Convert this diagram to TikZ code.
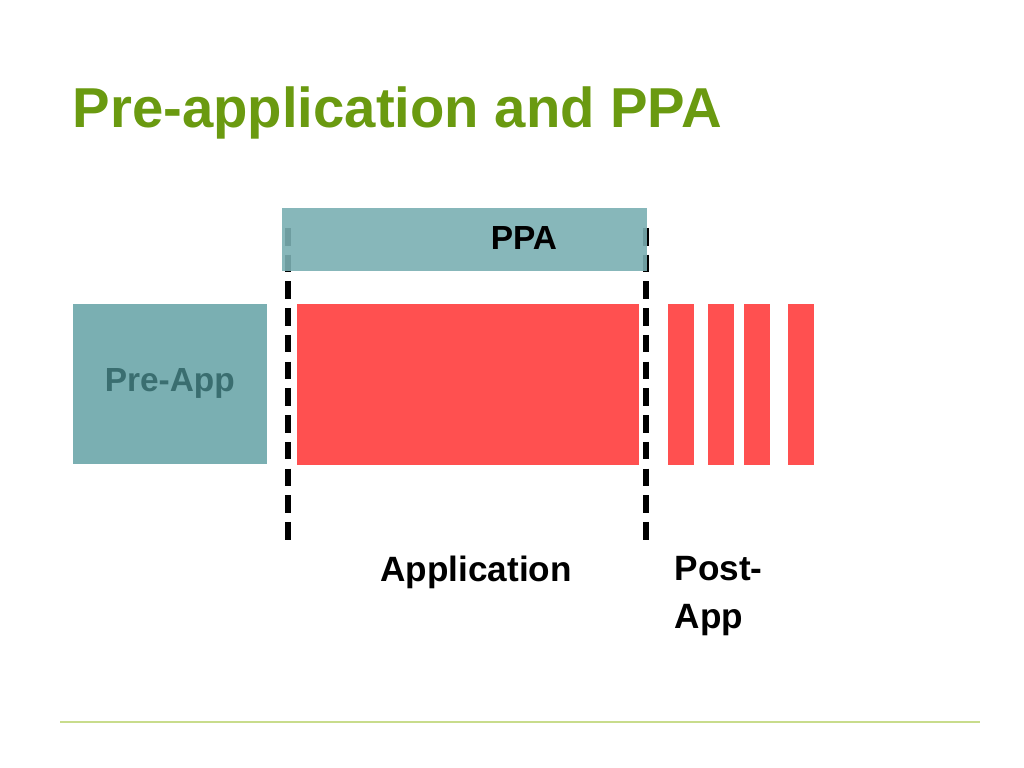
\documentclass[tikz,border=0pt]{standalone}
\usepackage{fontspec}
\setmainfont{Liberation Sans}
\definecolor{titlegreen}{HTML}{6A9A10}
\definecolor{teal}{HTML}{7AAFB2}
\definecolor{darkteal}{HTML}{3A6E70}
\definecolor{appred}{HTML}{FF5050}
\definecolor{rulegreen}{HTML}{C8DC8C}
\begin{document}
\begin{tikzpicture}[
      x=0.01cm, y=-0.01cm,
      every node/.style={font=\bfseries},
      box/.style={draw=none, inner sep=0pt, anchor=north west},
      bar/.style={box, fill=appred, minimum height=1.61cm},
      divider/.style={line width=1.6pt, dash pattern=on 5pt off 2.6pt}
  ]
  \useasboundingbox (0,0) rectangle (1024,768);

  % Title
  \node[anchor=base west, inner sep=0pt, text=titlegreen, font=\bfseries\fontsize{16}{19}\selectfont] (title) at (72,128) {Pre-application and PPA};

  % Dividers
  \coordinate (LT) at (288,228);
  \coordinate (LB) at (288,540);
  \coordinate (RT) at (646,228);
  \coordinate (RB) at (646,540);
  \draw[divider] (LT) -- (LB);
  \draw[divider] (RT) -- (RB);

  % Boxes
  \node[box, fill=teal, fill opacity=0.9, minimum width=3.65cm, minimum height=0.63cm] (PPA) at (281,207) {};
  \node[font=\bfseries\fontsize{9.5}{11}\selectfont] at (524,238) {PPA};
  \node[box, fill=teal, minimum width=1.94cm, minimum height=1.6cm] (PA) at (72,303) {};
  \node[text=darkteal, font=\bfseries\fontsize{9.5}{11}\selectfont] at (PA.center) {Pre-App};
  \node[bar, minimum width=3.42cm] (APP) at (296,303) {};
  \node[bar, minimum width=0.26cm] (P1) at (667,303) {};
  \node[bar, minimum width=0.26cm] (P2) at (707,303) {};
  \node[bar, minimum width=0.26cm] (P3) at (743,303) {};
  \node[bar, minimum width=0.26cm] (P4) at (787,303) {};

  % Labels
  \node[font=\bfseries\fontsize{10}{13.5}\selectfont] (LA) at (476,572) {Application};
  \node[anchor=north west, inner sep=0pt, align=left, font=\bfseries\fontsize{10}{13.5}\selectfont] (LP) at (674,556) {Post-\\App};

  % Footer rule
  \coordinate (F1) at (60,722);
  \coordinate (F2) at (980,722);
  \draw[rulegreen, line width=0.6] (F1) -- (F2);
\end{tikzpicture}
\end{document}
